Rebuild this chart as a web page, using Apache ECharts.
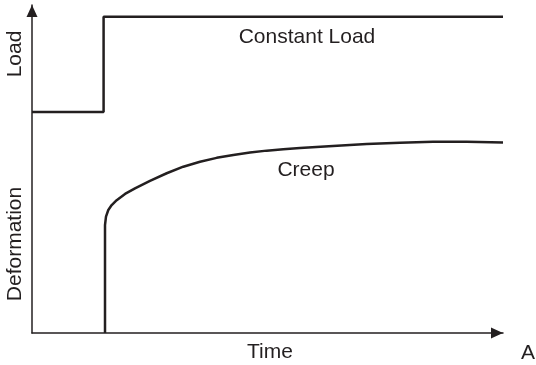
<!DOCTYPE html>
<html>
<head>
<meta charset="utf-8">
<script src="https://cdn.jsdelivr.net/npm/echarts@6/dist/echarts.min.js"></script>
<style>
  html, body { margin: 0; padding: 0; background: #fff; }
  #main { width: 536px; height: 365px; }
</style>
</head>
<body>
<div id="main"></div>
<script>
// time runs 0..100, both curves share one 0..100 value scale
const loadPts = [[0, 67.4], [15.2, 67.4], [15.2, 96.4], [100, 96.4]];
const creepPts = [
  [15.5, 0], [15.5, 32.9], [15.71, 35.5], [16.2, 37.5], [16.92, 39.0],
  [17.98, 40.5], [19.75, 42.4], [21.87, 44.1], [25.05, 46.4], [28.6, 48.7],
  [32.12, 50.7], [35.67, 52.2], [39.21, 53.4], [42.74, 54.3], [46.28, 55.0],
  [49.83, 55.6], [53.35, 56.0], [56.9, 56.4], [63.9, 57.0], [71.06, 57.6],
  [78.13, 58.0], [85.14, 58.3], [92.29, 58.3], [100, 58.1]
];
const ink = '#231f20';
const font = 'Liberation Sans, Arial, sans-serif';

const chart = echarts.init(document.getElementById('main'), null, { renderer: 'canvas' });

function lbl(text, x, y, rot) {
  return {
    type: 'text', x: x, y: y, rotation: rot || 0,
    style: { text: text, fill: ink, font: '21px ' + font, textAlign: 'center', textVerticalAlign: 'middle' }
  };
}

const axisLine = {
  show: true, symbol: ['none', 'triangle'], symbolSize: [11, 12], symbolOffset: [0, -6],
  lineStyle: { color: ink, width: 1.5 }
};

chart.setOption({
  animation: false,
  grid: { left: 32, right: 33, top: 5, bottom: 32 },
  xAxis: {
    type: 'value', min: 0, max: 100,
    axisLine: axisLine, axisTick: { show: false }, axisLabel: { show: false }, splitLine: { show: false }
  },
  yAxis: {
    type: 'value', min: 0, max: 100,
    axisLine: axisLine, axisTick: { show: false }, axisLabel: { show: false }, splitLine: { show: false }
  },
  series: [
    { type: 'line', data: loadPts, symbol: 'none', lineStyle: { color: ink, width: 2.5 }, clip: false },
    { type: 'line', data: creepPts, symbol: 'none', lineStyle: { color: ink, width: 2.5, join: 'round' }, clip: false }
  ],
  graphic: [
    lbl('Load', 15, 54, Math.PI / 2),
    lbl('Deformation', 15, 244, Math.PI / 2),
    lbl('Time', 270, 352),
    lbl('A', 528, 353),
    lbl('Constant Load', 307, 37),
    lbl('Creep', 306, 170)
  ]
});
</script>
</body>
</html>
